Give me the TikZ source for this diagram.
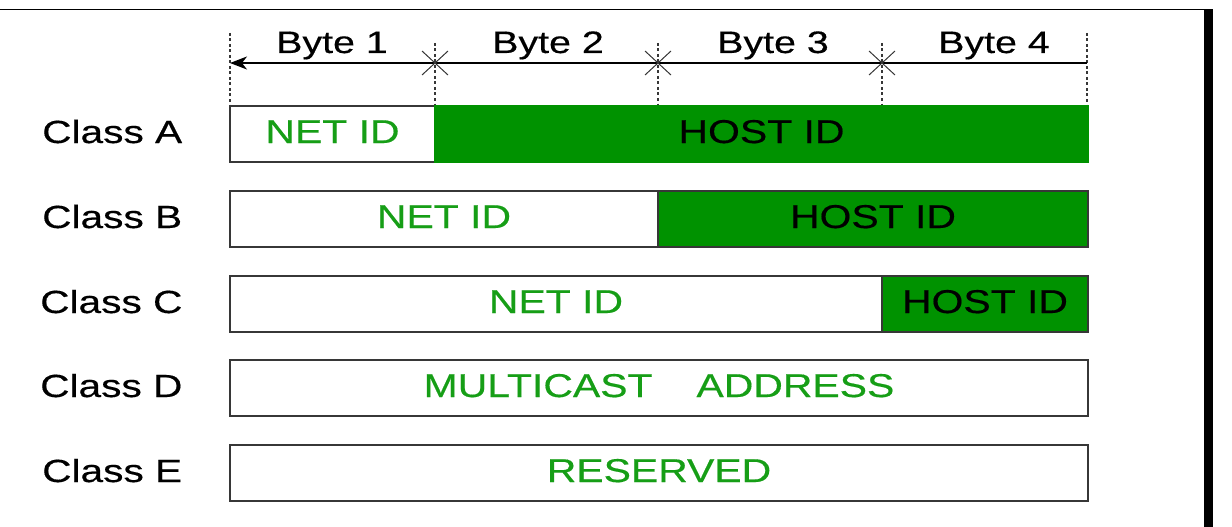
\documentclass[tikz,border=0pt]{standalone}
\usepackage{fontspec}
\setmainfont{Liberation Sans}
\newfontfamily\boxfam[FakeStretch=1.24,FakeBold=0.4]{Liberation Sans}
\newfontfamily\clsfam[FakeStretch=1.27,FakeBold=0.4]{Liberation Sans}
\newfontfamily\bytefam[FakeStretch=1.27,FakeBold=0.4]{Liberation Sans}
\usetikzlibrary{arrows.meta}
\definecolor{hostgreen}{RGB}{0,146,0}
\definecolor{netgreen}{RGB}{22,158,22}
\definecolor{edgegray}{RGB}{55,55,55}
\newcommand{\boxfont}{\boxfam\fontsize{33}{36}\selectfont}
\newcommand{\clsfont}{\clsfam\fontsize{32}{36}\selectfont}
\newcommand{\bytefont}{\bytefam\fontsize{31}{34}\selectfont}
\begin{document}
\begin{tikzpicture}[x=1pt,y=-1pt,
  cell/.style={draw=edgegray, line width=1.4pt, minimum height=56pt, anchor=north west,
    inner sep=0pt, outer sep=0pt, text height=23pt, text depth=5pt, font=\boxfont},
  netcell/.style={cell, fill=white, text=netgreen},
  hostcell/.style={cell, fill=hostgreen, text=black},
  clslabel/.style={anchor=base west, inner sep=0pt, font=\clsfont, text=black},
  bytelabel/.style={anchor=base, inner sep=0pt, font=\bytefont, text=black},
  guide/.style={draw=edgegray, line width=1.1pt, dash pattern=on 3pt off 2.5pt},
  crossline/.style={draw=edgegray, line width=1pt},
  spanarrow/.style={draw=black, line width=1.2pt, -{Stealth[length=17pt,width=13pt,inset=5pt]}}
]
\useasboundingbox (0,0) rectangle (1232,527);
% frame
\draw[black, line width=1.5pt] (0,9.5) -- (1205,9.5);
\fill[black] (1204,9) rectangle (1213,527);

% guides
\coordinate (t0) at (230,33);
\coordinate (t1) at (435,43);
\coordinate (t2) at (658,43);
\coordinate (t3) at (882,43);
\coordinate (t4) at (1087,33);
\coordinate (b0) at (230,106);
\coordinate (b1) at (435,106);
\coordinate (b2) at (658,106);
\coordinate (b3) at (882,106);
\coordinate (b4) at (1087,106);
\foreach \i in {0,...,4} {\draw[guide] (t\i) -- (b\i);}

% span arrow
\coordinate (a0) at (230,63);
\coordinate (a4) at (1087,63);
\draw[spanarrow] (a4) -- (a0);

% crosses
\coordinate (x1) at (435,63);
\coordinate (x2) at (658,63);
\coordinate (x3) at (882,63);
\foreach \c in {x1,x2,x3} {
  \draw[crossline] ([shift={(-13,-12)}]\c) -- ([shift={(13,12)}]\c);
  \draw[crossline] ([shift={(-13,12)}]\c) -- ([shift={(13,-12)}]\c);
}

% byte labels
\node[bytelabel] (byte1) at (332,53) {Byte 1};
\node[bytelabel] (byte2) at (548,53) {Byte 2};
\node[bytelabel] (byte3) at (773,53) {Byte 3};
\node[bytelabel] (byte4) at (994,53) {Byte 4};

% class labels
\node[clslabel] (clsA) at (42,143) {Class A};
\node[clslabel] (clsB) at (42,228) {Class B};
\node[clslabel] (clsC) at (40,313) {Class C};
\node[clslabel] (clsD) at (40,397) {Class D};
\node[clslabel] (clsE) at (42,482) {Class E};

% Class A
\node[netcell, minimum width=205pt] (netA) at (230,106) {NET ID};
\node[hostcell, draw=hostgreen, minimum width=653pt] (hostA) at (435,106) {HOST ID};
% Class B
\node[netcell, minimum width=428pt] (netB) at (230,191) {NET ID};
\node[hostcell, minimum width=430pt] (hostB) at (658,191) {HOST ID};
% Class C
\node[netcell, minimum width=652pt] (netC) at (230,276) {NET ID};
\node[hostcell, minimum width=206pt] (hostC) at (882,276) {HOST ID};
% Class D
\node[netcell, minimum width=858pt] (multD) at (230,360) {MULTICAST\hspace{44pt}ADDRESS};
% Class E
\node[netcell, minimum width=858pt] (resE) at (230,445) {RESERVED};
\end{tikzpicture}
\end{document}
